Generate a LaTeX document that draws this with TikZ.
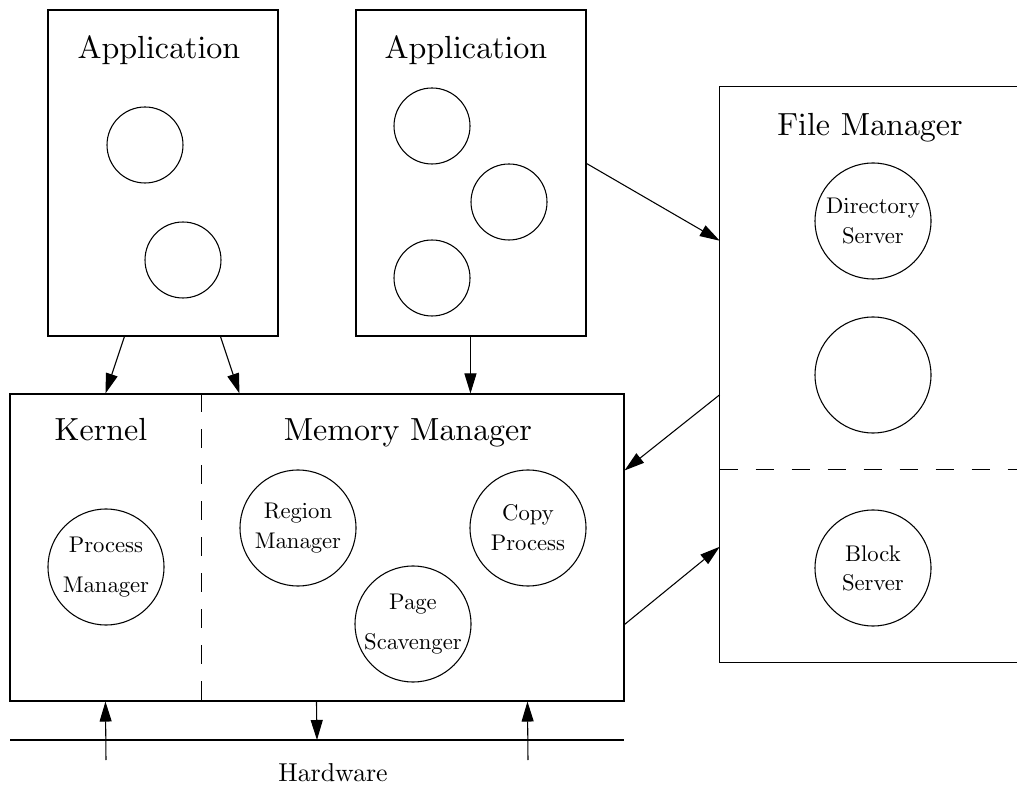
\documentclass[tikz,border=0pt]{standalone}
\usetikzlibrary{arrows.meta,fit,calc}
\font\ttlfont=cmr10 at 24pt
\font\lblfont=cmr10 at 17pt
\font\hwfont=cmr10 at 19.4pt
\begin{document}
\begin{tikzpicture}[x=0.75pt,y=-0.75pt,
  box/.style={draw,line width=0.8pt,rectangle,inner sep=0pt},
  proc/.style={draw,line width=0.8pt,circle,inner sep=0pt,minimum size=87pt,align=center,font={\lblfont\baselineskip=22.2pt}},
  wideproc/.style={proc,font={\lblfont\baselineskip=29.5pt}},
  small/.style={draw,line width=0.8pt,circle,inner sep=0pt,minimum size=57pt},
  title/.style={anchor=base,inner sep=0pt,font=\ttlfont},
  conn/.style={-{Triangle[length=15pt,width=9pt]},line width=0.8pt},
  divider/.style={line width=0.8pt,dash pattern=on 14pt off 13pt}]
\useasboundingbox (0,0) rectangle (1017,787);
% boxes
\node[box,fit={(48,10) (278,336)}] (app1) {};
\node[box,fit={(356,10) (586,336)}] (app2) {};
\node[box,fit={(10,394) (624,701)}] (kmm) {};
\node[inner sep=0pt,fit={(720,87) (1040,662)}] (fm) {};
\draw[line width=0.8pt] ($(fm.north west)+(320,0)$) -- (fm.north west) -- (fm.south west) -- ($(fm.south west)+(320,0)$);
% dividers
\draw[divider] ($(kmm.north west)+(192,0)$) -- ($(kmm.south west)+(192,0)$);
\draw[divider] ($(fm.north west)+(0,383)$) -- ($(fm.north west)+(297,383)$);
% titles
\node[title] (t1) at (159,59) {Application};
\node[title] (t2) at (466,59) {Application};
\node[title] (t3) at (870,136) {File Manager};
\node[title] (t4) at (101,441) {Kernel};
\node[title] (t5) at (408,441) {Memory Manager};
% small circles
\node[small] (c1) at (145,145) {};
\node[small] (c2) at (183,260) {};
\node[small] (c3) at (432,126) {};
\node[small] (c4) at (509,202) {};
\node[small] (c5) at (432,278) {};
% process circles
\node[proc] (ds) at (873,221) {Directory\\Server};
\node[proc] (fe) at (873,375) {};
\node[proc] (bs) at (873,568) {Block\\Server};
\node[wideproc] (pm) at (106,567) {Process\\Manager};
\node[proc] (rm) at (298,528) {Region\\Manager};
\node[proc] (cp) at (528,528) {Copy\\Process};
\node[wideproc] (ps) at (413,624) {Page\\Scavenger};
% hardware
\coordinate (hwL) at (10,740);
\coordinate (hwR) at (624,740);
\draw[line width=0.8pt] (hwL) -- (hwR);
\node[anchor=base,inner sep=0pt,font=\hwfont] (hw) at (333,781) {Hardware};
\coordinate (u1) at (106,760);
\coordinate (u2) at (528,760);
\coordinate (d1) at (317,740);
% connectors
\draw[conn] ($(app1.south west)+(77,0)$) -- ($(kmm.north west)+(96,0)$);
\draw[conn] ($(app1.south west)+(173,0)$) -- ($(kmm.north west)+(230,0)$);
\draw[conn] ($(app2.south west)+(115,0)$) -- ($(kmm.north west)+(461,0)$);
\draw[conn] ($(app2.north east)+(0,154)$) -- ($(fm.north west)+(0,154)$);
\draw[conn] ($(fm.north west)+(0,308)$) -- ($(kmm.north east)+(0,77)$);
\draw[conn] ($(kmm.north east)+(0,231)$) -- ($(fm.north west)+(0,460)$);
\draw[conn] (u1) -- ($(kmm.south west)+(96,0)$);
\draw[conn] ($(kmm.south west)+(307,0)$) -- (d1);
\draw[conn] (u2) -- ($(kmm.south west)+(518,0)$);
\end{tikzpicture}
\end{document}
